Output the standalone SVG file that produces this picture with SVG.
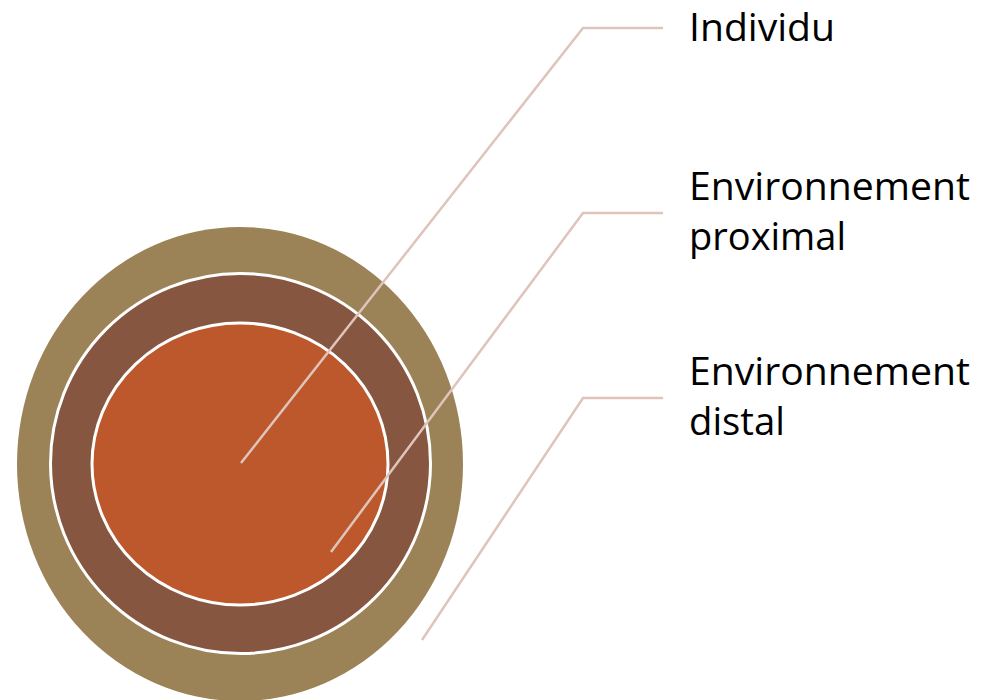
<svg xmlns="http://www.w3.org/2000/svg" width="981" height="700" viewBox="0 0 981 700">
<style>
.ring{stroke:#ffffff;stroke-width:3}
.lead{fill:none;stroke:#dfc4bc;stroke-width:2.5}
.lbl{font-family:"Open Sans","Noto Sans",sans-serif;font-size:38px;fill:#000000}
</style>
<rect width="981" height="700" fill="#ffffff"/>
<g id="node-distal">
<ellipse cx="240" cy="464" rx="223" ry="237" fill="#9c8257"/>
</g>
<g id="node-proximal">
<ellipse class="ring" cx="240.5" cy="463.5" rx="190" ry="190" fill="#865641"/>
</g>
<g id="node-individu">
<ellipse class="ring" cx="240" cy="464" rx="148" ry="141" fill="#bd582c"/>
</g>
<g id="connectors">
<polyline class="lead" points="241,463 583,28 663,28"/>
<polyline class="lead" points="331,552 583,213 663,213"/>
<polyline class="lead" points="422,640 583,398 663,398"/>
</g>
<g id="labels">
<text class="lbl" x="689" y="41" textLength="146" lengthAdjust="spacingAndGlyphs">Individu</text>
<text class="lbl" x="689" y="200" textLength="281" lengthAdjust="spacingAndGlyphs">Environnement</text>
<text class="lbl" x="689" y="250" textLength="157" lengthAdjust="spacingAndGlyphs">proximal</text>
<text class="lbl" x="689" y="385" textLength="281" lengthAdjust="spacingAndGlyphs">Environnement</text>
<text class="lbl" x="689" y="435" textLength="96" lengthAdjust="spacingAndGlyphs">distal</text>
</g>
</svg>
